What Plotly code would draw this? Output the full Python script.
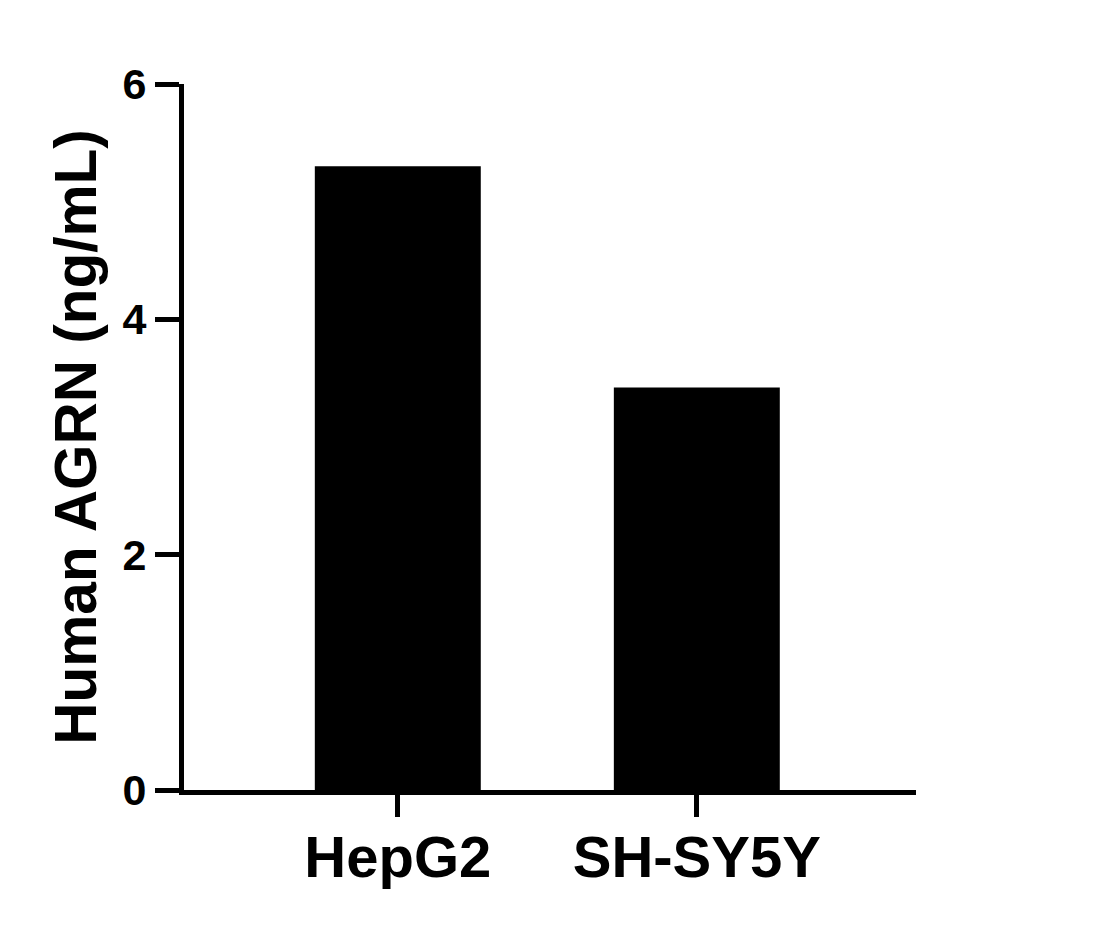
import plotly.graph_objects as go

cell_lines = ["HepG2", "SH-SY5Y"]
agrn_ng_ml = [5.30, 3.42]
y_ticks = [0, 2, 4, 6]

FONT = "Arial, Liberation Sans, sans-serif"

fig = go.Figure()
fig.add_trace(
    go.Bar(
        x=[0, 1],
        y=agrn_ng_ml,
        width=0.555,
        marker=dict(color="black", line=dict(width=0)),
        showlegend=False,
    )
)

fig.update_layout(
    width=1093,
    height=928,
    margin=dict(l=176, r=185, t=76, b=146),
    plot_bgcolor="white",
    paper_bgcolor="white",
    font=dict(family=FONT, color="black"),
    xaxis=dict(
        range=[-0.715, 1.733],
        tickmode="array",
        tickvals=[0, 1],
        ticktext=[f"<b>{c}</b>" for c in cell_lines],
        tickfont=dict(size=58, family=FONT),
        ticklabelstandoff=-10,
        showline=True,
        linewidth=5,
        linecolor="black",
        ticks="outside",
        ticklen=22,
        tickwidth=5,
        tickcolor="black",
        showgrid=False,
        zeroline=False,
    ),
    yaxis=dict(
        range=[0, 6],
        tickmode="array",
        tickvals=y_ticks,
        ticktext=[f"<b>{v}</b>" for v in y_ticks],
        tickfont=dict(size=43, family=FONT),
        showline=True,
        linewidth=5,
        linecolor="black",
        ticks="outside",
        ticklen=24,
        tickwidth=5,
        tickcolor="black",
        showgrid=False,
        zeroline=False,
        title=dict(
            text="<b>Human AGRN (ng/mL)</b>",
            font=dict(size=58.5, family=FONT),
            standoff=9,
        ),
    ),
)

fig.write_html("out.html")
